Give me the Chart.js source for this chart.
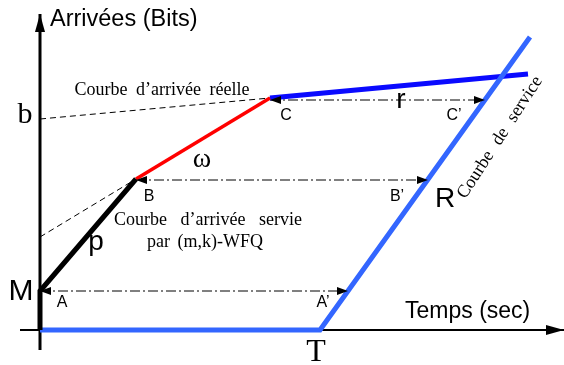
<!doctype html>
<html>
<head>
	<title>Courbe de service</title>
	<script src="https://cdn.jsdelivr.net/npm/chart.js@4.4.0/dist/chart.umd.min.js"></script>
	<style>
		body { margin: 0; background: #fff; }
		#wrap { width: 564px; height: 365px; position: relative; }
	</style>
</head>
<body>
	<div id="wrap"><canvas id="canvas"></canvas></div>
	<script>
		// curve break points (time units, bit units), origin at axis crossing
		var serviceX = [0, 280, 490];
		var serviceY = [0, 0, 293];
		var servedX = [0, 0, 96];
		var servedY = [0, 39, 151];
		var omegaX = [96, 230];
		var omegaY = [151, 232];
		var realX = [230, 488];
		var realY = [232, 256];
		// thin dashed extensions towards the bits axis
		var bLineX = [0, 230];
		var bLineY = [211, 232];
		var pLineX = [0, 96];
		var pLineY = [93, 151];
		// horizontal delays A->A', B->B', C->C'
		var delayLevel = [39, 150, 230];
		var delayFrom = [0, 96, 230];
		var delayTo = [308, 388, 445];
		// axes extent
		var axisX = [-20, 524];
		var axisY = [-20, 316];

		function pts(xs, ys) {
			return xs.map(function (x, i) { return { x: x, y: ys[i] }; });
		}

		var labels = [
			{ t: 'Arrivées (Bits)', x: 10, y: 304, f: '23.5px "Liberation Sans"', a: 'left' },
			{ t: 'Temps (sec)', x: 365, y: 12, f: '23px "Liberation Sans"', a: 'left' },
			{ t: 'b', x: -15, y: 207, f: '30px "Liberation Serif"' },
			{ t: 'M', x: -19, y: 30, f: '30px "Liberation Sans"' },
			{ t: 'T', x: 276, y: -31, f: '32px "Liberation Serif"' },
			{ t: 'R', x: 405, y: 123, f: '28px "Liberation Sans"' },
			{ t: 'A', x: 22, y: 23, f: '16px "Liberation Sans"' },
			{ t: 'A’', x: 283, y: 23, f: '16px "Liberation Sans"' },
			{ t: 'B', x: 109, y: 129, f: '16px "Liberation Sans"' },
			{ t: 'B’', x: 357, y: 129, f: '16px "Liberation Sans"' },
			{ t: 'C', x: 246, y: 210, f: '16px "Liberation Sans"' },
			{ t: 'C’', x: 414, y: 210, f: '16px "Liberation Sans"' },
			{ t: 'r', x: 361, y: 222, f: '28px "Liberation Sans"' },
			{ t: 'ω', x: 162, y: 163, f: '28px "Liberation Serif"' },
			{ t: 'p', x: 56, y: 80, f: '28px "Liberation Sans"' },
			{ t: 'Courbe d’arrivée réelle', x: 122, y: 235, f: '18px "Liberation Serif"', ws: '4px' },
			{ t: 'Courbe d’arrivée servie', x: 168, y: 105, f: '18px "Liberation Serif"', ws: '9px' },
			{ t: 'par (m,k)-WFQ', x: 165, y: 83, f: '18px "Liberation Serif"', ws: '3px' },
			{ t: 'Courbe de service', x: 464, y: 190, f: '18px "Liberation Serif"', ws: '6px', rot: -57 }
		];

		var labelPlugin = {
			id: 'labelPlugin',
			afterDraw: function (chart) {
				var ctx = chart.ctx, sx = chart.scales.x, sy = chart.scales.y;
				labels.forEach(function (l) {
					ctx.save();
					ctx.fillStyle = '#000';
					ctx.font = l.f;
					ctx.textAlign = l.a || 'center';
					ctx.textBaseline = 'alphabetic';
					ctx.wordSpacing = l.ws || '0px';
					ctx.translate(sx.getPixelForValue(l.x), sy.getPixelForValue(l.y));
					if (l.rot) ctx.rotate(l.rot * Math.PI / 180);
					ctx.fillText(l.t, 0, 0);
					ctx.restore();
				});
			}
		};

		// arrow heads at the ends of datasets that ask for them
		var arrowPlugin = {
			id: 'arrowPlugin',
			afterDatasetsDraw: function (chart) {
				var ctx = chart.ctx;
				chart.data.datasets.forEach(function (ds, i) {
					if (!ds.arrows) return;
					var p = chart.getDatasetMeta(i).data;
					ds.arrows.forEach(function (end) {
						var tip = end == 'end' ? p[p.length - 1] : p[0];
						var from = end == 'end' ? p[p.length - 2] : p[1];
						var ang = Math.atan2(tip.y - from.y, tip.x - from.x);
						var len = ds.arrowLen || 11, w = ds.arrowW || 4;
						ctx.save();
						ctx.translate(tip.x, tip.y);
						ctx.rotate(ang);
						ctx.fillStyle = '#000';
						ctx.beginPath();
						ctx.moveTo(0, 0);
						ctx.lineTo(-len, -w);
						ctx.lineTo(-len, w);
						ctx.closePath();
						ctx.fill();
						ctx.restore();
					});
				});
			}
		};

		function line(data, color, width, order, extra) {
			var ds = {
				data: data,
				showLine: true,
				borderColor: color,
				borderWidth: width,
				pointRadius: 0,
				fill: false,
				order: order
			};
			for (var k in extra) ds[k] = extra[k];
			return ds;
		}

		var datasets = [
			line(pts(axisX, [0, 0]), '#000', 2, 20, { arrows: ['end'], arrowLen: 18, arrowW: 5 }),
			line(pts([0, 0], axisY), '#000', 3, 20, { arrows: ['end'], arrowLen: 18, arrowW: 5 }),
			line(pts(bLineX, bLineY), '#000', 1, 15, { borderDash: [6, 4] }),
			line(pts(pLineX, pLineY), '#000', 1, 15, { borderDash: [6, 4] }),
			line(pts(serviceX, serviceY), '#3366ff', 5, 5),
			line(pts(servedX, servedY), '#000', 5, 4),
			line(pts(omegaX, omegaY), '#ff0000', 3.5, 4),
			line(pts(realX, realY), '#0a0aff', 5, 6)
		];
		for (var i = 0; i < delayLevel.length; i++) {
			datasets.push(line(pts([delayFrom[i], delayTo[i]], [delayLevel[i], delayLevel[i]]), '#000', 1, 10,
				{ borderDash: [10, 3, 2, 3], arrows: ['start', 'end'], arrowLen: 11, arrowW: 4 }));
		}

		var config = {
			type: 'scatter',
			data: { datasets: datasets },
			options: {
				responsive: true,
				maintainAspectRatio: false,
				animation: false,
				layout: { padding: 0 },
				plugins: { legend: { display: false }, tooltip: { enabled: false } },
				scales: {
					x: { type: 'linear', display: false, min: -40, max: 524 },
					y: { type: 'linear', display: false, min: -35, max: 330 }
				}
			},
			plugins: [arrowPlugin, labelPlugin]
		};

		window.onload = function () {
			var ctx = document.getElementById('canvas').getContext('2d');
			window.myChart = new Chart(ctx, config);
		};
	</script>
</body>
</html>
